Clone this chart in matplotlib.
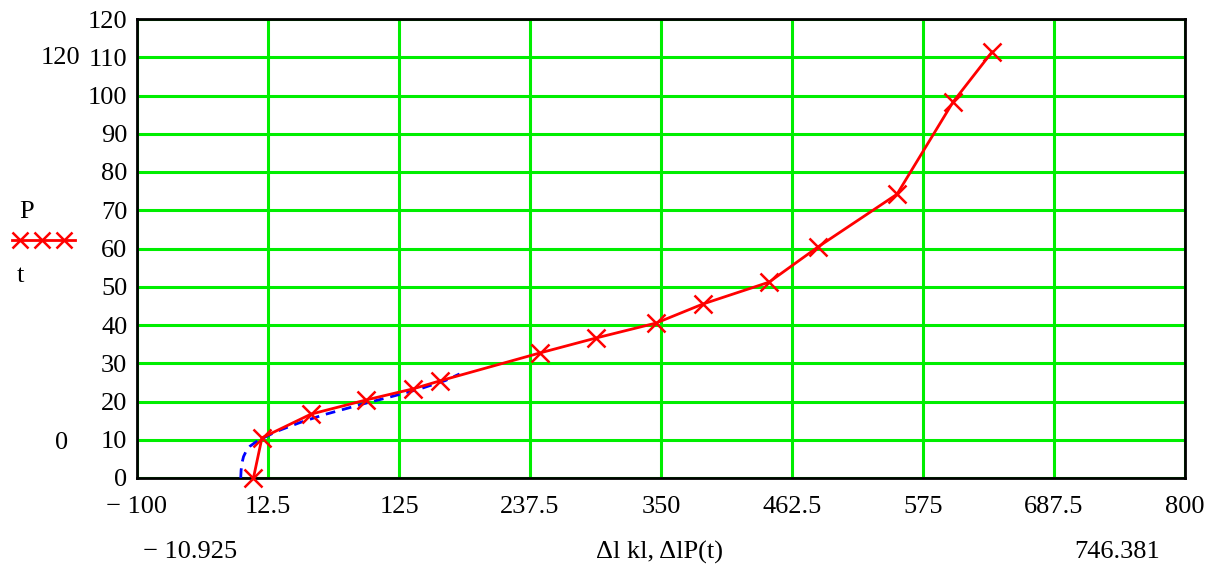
import matplotlib
matplotlib.use("Agg")
import matplotlib.pyplot as plt
from matplotlib.lines import Line2D

# Data
p_x = [0, 7.3, 49.4, 96.7, 137, 160.2, 246.1, 294.2, 345.7, 386.1, 442.8, 484.8, 552.7, 600.8, 634.3]
p_y = [0, 10.5, 16.7, 20.4, 23.3, 25.4, 32.7, 36.6, 40.5, 45.5, 51.2, 60.4, 74.2, 98.3, 111.4]
t_x = [-10.925, -10.6, -9.8, -8.5, -6, -3, 2, 7.4, 20, 40, 60, 95.8, 120, 143, 165, 177]
t_y = [0, 2, 4, 5.6, 7.2, 8.3, 9.4, 10.3, 12.2, 14.5, 16.5, 19.5, 21.4, 23.3, 25.5, 27.2]
x_ticks = [-100, 12.5, 125, 237.5, 350, 462.5, 575, 687.5, 800]
x_tick_labels = ["\u2212 100", "12.5", "125", "237.5", "350", "462.5", "575", "687.5", "800"]
y_ticks = list(range(0, 121, 10))

plt.rcParams['font.family'] = ['Liberation Serif', 'DejaVu Serif']

fig = plt.figure(figsize=(12.2, 5.72), dpi=100)
ax = fig.add_axes([137/1220, 1 - 478/572, (1185-137)/1220, (478-19)/572])
ax.set_xlim(-100, 800)
ax.set_ylim(0, 120)
ax.set_xticks(x_ticks)
ax.set_xticklabels(x_tick_labels)
ax.set_yticks(y_ticks)
ax.grid(True, color='#00ee00', lw=2.2)
ax.set_axisbelow(True)
ax.tick_params(axis='y', length=0, labelsize=19, pad=7)
ax.tick_params(axis='x', length=0, labelsize=19, pad=13)
for s in ax.spines.values():
    s.set_linewidth(2)
    s.set_color('black')

ax.plot(t_x, t_y, color='blue', lw=2, ls=(0, (3.5, 2.5)), clip_on=True, zorder=3)
ax.plot(p_x, p_y, color='red', lw=2, marker='x', markersize=13, markeredgewidth=1.8,
        clip_on=False, zorder=4)

fs = 19
fig.text(60/1220, 1 - 58/572, "120", ha='center', va='center', fontsize=fs)
fig.text(62/1220, 1 - 443/572, "0", ha='center', va='center', fontsize=fs)
fig.text(27/1220, 1 - 212/572, "P", ha='center', va='center', fontsize=fs)
fig.text(20/1220, 1 - 276/572, "t", ha='center', va='center', fontsize=fs)
fig.add_artist(Line2D([12/1220, 75/1220], [1 - 240/572, 1 - 240/572], color='red', lw=2))
fig.add_artist(Line2D([20/1220, 42/1220, 64/1220], [1 - 240/572]*3, color='red', lw=0,
                      marker='x', markersize=11, markeredgewidth=1.8))
fig.text(190/1220, 1 - 552/572, "\u2212 10.925", ha='center', va='center', fontsize=fs)
fig.text(660/1220, 1 - 552/572, "\u0394l kl, \u0394lP(t)", ha='center', va='center', fontsize=fs)
fig.text(1117/1220, 1 - 552/572, "746.381", ha='center', va='center', fontsize=fs)

fig.savefig("out.png", dpi=100)
